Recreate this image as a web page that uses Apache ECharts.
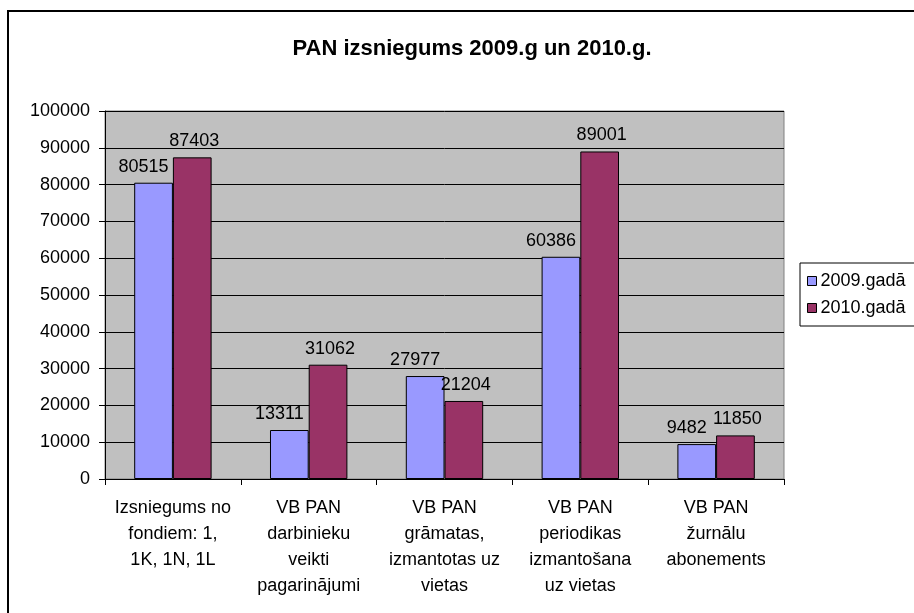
<!DOCTYPE html>
<html>
<head>
<meta charset="utf-8">
<style>html,body{margin:0;padding:0;background:#fff;}#c{width:914px;height:613px;}</style>
<script src="https://cdn.jsdelivr.net/npm/echarts@6/dist/echarts.min.js"></script>
</head>
<body>
<div id="c"></div>
<script>
const categories = [
  "Izsniegums no\nfondiem: 1,\n1K, 1N, 1L",
  "VB PAN\ndarbinieku\nveikti\npagarinājumi",
  "VB PAN\ngrāmatas,\nizmantotas uz\nvietas",
  "VB PAN\nperiodikas\nizmantošana\nuz vietas",
  "VB PAN\nžurnālu\nabonements"
];
const seriesNames = ["2009.gadā", "2010.gadā"];
const values2009 = [80515, 13311, 27977, 60386, 9482];
const values2010 = [87403, 31062, 21204, 89001, 11850];
const yTicks = { min: 0, max: 100000, interval: 10000 };

const chart = echarts.init(document.getElementById('c'), null, { renderer: 'canvas' });
const font = 'Arial, "Liberation Sans", sans-serif';
const labelBase = { show: true, position: 'top', color: '#000', fontSize: 18, fontFamily: font, distance: 7 };
chart.setOption({
  animation: false,
  backgroundColor: '#fff',
  title: {
    text: 'PAN izsniegums 2009.g un 2010.g.',
    left: 467, top: 33, textAlign: 'center',
    textStyle: { fontSize: 22, fontWeight: 'bold', fontFamily: font, color: '#000' }
  },
  graphic: [{
    type: 'rect', shape: { x: 8, y: 11, width: 1000, height: 700 },
    style: { fill: 'none', stroke: '#000', lineWidth: 2 }, silent: true
  }],
  legend: {
    data: seriesNames, orient: 'vertical', left: 800, top: 263,
    padding: [9, 30, 9, 7], itemGap: 9, itemWidth: 9, itemHeight: 9,
    borderColor: '#000', borderWidth: 1, backgroundColor: '#fff',
    icon: 'rect',
    itemStyle: { borderColor: '#000', borderWidth: 1 },
    textStyle: { fontSize: 18, fontFamily: font, color: '#000', padding: [0,0,0,-1] }
  },
  grid: {
    left: 105, right: 130, top: 111, bottom: 134,
    show: true, backgroundColor: '#C0C0C0', borderColor: '#808080', borderWidth: 1
  },
  xAxis: {
    type: 'category', data: categories,
    axisLine: { lineStyle: { color: '#000', width: 1 } },
    axisTick: { show: true, length: 6, lineStyle: { color: '#000' } },
    axisLabel: { color: '#000', fontSize: 18, fontFamily: font, lineHeight: 26, margin: 16, interval: 0 }
  },
  yAxis: {
    type: 'value', min: yTicks.min, max: yTicks.max, interval: yTicks.interval,
    axisLine: { show: true, lineStyle: { color: '#000', width: 1 } },
    axisTick: { show: true, length: 6, lineStyle: { color: '#000' } },
    axisLabel: { color: '#000', fontSize: 18, fontFamily: font, margin: 15, formatter: v => String(v) },
    splitLine: { lineStyle: { color: '#000', width: 1 } }
  },
  series: [
    { name: seriesNames[0], type: 'bar', data: values2009, barGap: '0%', barCategoryGap: '43%',
      itemStyle: { color: '#9999FF', borderColor: '#000', borderWidth: 1 },
      label: Object.assign({}, labelBase, { offset: [-10, 0] }) },
    { name: seriesNames[1], type: 'bar', data: values2010, barGap: '0%', barCategoryGap: '43%',
      itemStyle: { color: '#993366', borderColor: '#000', borderWidth: 1 },
      label: Object.assign({}, labelBase, { offset: [2, 0] }) }
  ]
});
</script>
</body>
</html>
